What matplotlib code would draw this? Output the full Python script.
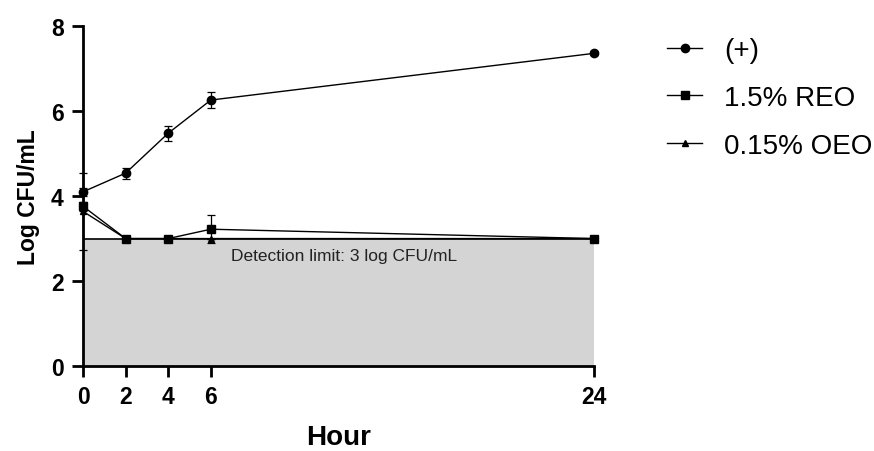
import numpy as np
import matplotlib
matplotlib.use('Agg')
import matplotlib.pyplot as plt

plt.rcParams['font.family'] = ['Liberation Sans', 'DejaVu Sans']

hours = [0, 2, 4, 6, 24]

pos_mean = [4.10, 4.54, 5.48, 6.26, 7.36]
pos_err = [0.10, 0.13, 0.18, 0.18, 0.05]

reo_mean = [3.76, 3.00, 3.00, 3.22, 3.00]
reo_err = [0.10, 0.03, 0.03, 0.33, 0.03]

oeo_mean = [3.64, 3.00, 3.00, 3.00, 3.00]
oeo_err = [0.90, 0.0, 0.0, 0.0, 0.0]

labels = ['(+)', '1.5% REO', '0.15% OEO']
detection_limit = 3

fig = plt.figure(figsize=(8.74, 4.52), dpi=100)
ax = fig.add_axes([0.095, 0.188, 0.585, 0.752])

# shaded area below detection limit
ax.fill_between([0, 24], 0, detection_limit, color='#d4d4d4', linewidth=0, zorder=0)
ax.hlines(detection_limit, 0, 24, color='black', linewidth=1.2, zorder=1)
ax.text(12.26, 2.59, 'Detection limit: 3 log CFU/mL', fontsize=12.5,
        ha='center', va='center', color='#222222')

styles = [('o', 6), ('s', 6), ('^', 5)]
series = [(pos_mean, pos_err), (reo_mean, reo_err), (oeo_mean, oeo_err)]
for (m, e), (mk, ms), lab in zip(series, styles, labels):
    ax.errorbar(hours, m, yerr=e, marker=mk, markersize=ms, color='black',
                linewidth=1.0, elinewidth=0.9, capsize=3, capthick=0.9,
                label=lab, clip_on=False, zorder=3)

ax.set_xlim(0, 24)
ax.set_ylim(0, 8)
ax.set_xticks(hours)
ax.set_yticks([0, 2, 4, 6, 8])
ax.spines['top'].set_visible(False)
ax.spines['right'].set_visible(False)
for s in ['left', 'bottom']:
    ax.spines[s].set_linewidth(2)
ax.tick_params(width=2, length=8, labelsize=16.5, pad=6)
for lbl in ax.get_xticklabels() + ax.get_yticklabels():
    lbl.set_fontweight('bold')

ax.set_xlabel('Hour', fontsize=20, fontweight='bold', labelpad=11)
ax.set_ylabel('Log CFU/mL', fontsize=16.5, fontweight='bold', labelpad=8)

handles, labs = ax.get_legend_handles_labels()
handles = [h[0] for h in handles]
ax.legend(handles, labs, loc='upper left', bbox_to_anchor=(1.121, 1.0),
          frameon=False, fontsize=20, handlelength=1.25, handletextpad=0.8,
          labelspacing=0.78, borderaxespad=0)

fig.savefig('out.png', dpi=100)
